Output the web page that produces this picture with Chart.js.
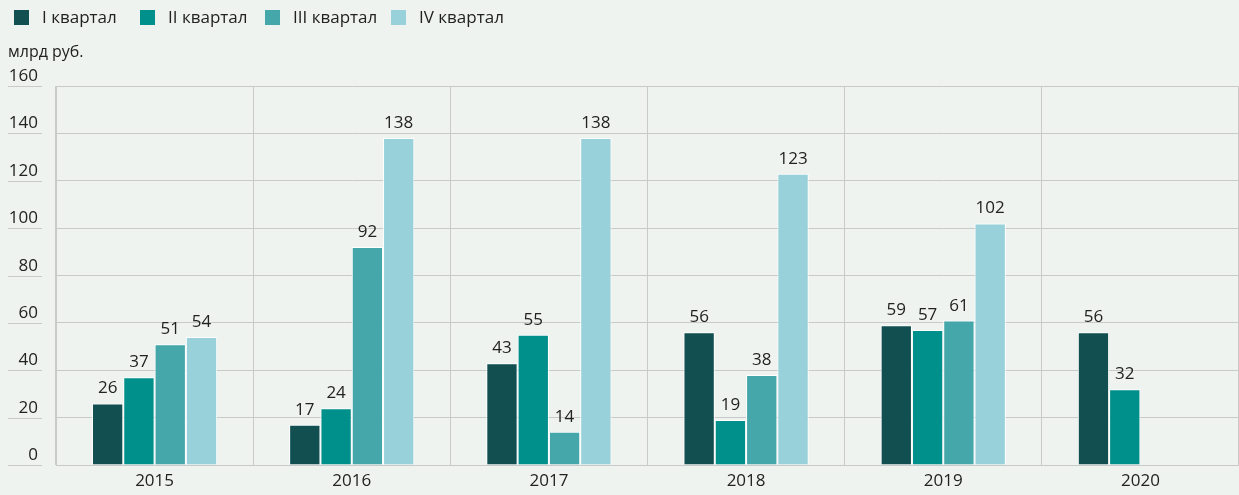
<!DOCTYPE html>
<html><head><meta charset="utf-8">
<script src="https://cdn.jsdelivr.net/npm/chart.js@4/dist/chart.umd.min.js"></script>
<style>html,body{margin:0;padding:0;background:#eff3f0;}#wrap{width:1239px;height:495px;position:relative;}</style>
</head><body><div id="wrap"><canvas id="c" width="1239" height="495"></canvas></div>
<script>
const categories = ['2015','2016','2017','2018','2019','2020'];
const seriesNames = ['I квартал','II квартал','III квартал','IV квартал'];
const q1 = [26, 17, 43, 56, 59, 56];
const q2 = [37, 24, 55, 19, 57, 32];
const q3 = [51, 92, 14, 38, 61, null];
const q4 = [54, 138, 138, 123, 102, null];
const yTicks = [0, 20, 40, 60, 80, 100, 120, 140, 160];
const unitLabel = 'млрд руб.';
const colors = ['#124f50', '#00908b', '#45a7aa', '#99d1da'];

const FONT = '"Open Sans", "Noto Sans", sans-serif';
const TXT = '#222222';
const GRID = '#c9c9c9';

const overlay = {
  id: 'overlay',
  afterDraw(chart) {
    const ctx = chart.ctx;
    const y = chart.scales.y;
    ctx.save();
    ctx.font = '17px ' + FONT;
    ctx.fillStyle = TXT;
    ctx.textAlign = 'right';
    ctx.textBaseline = 'alphabetic';
    yTicks.forEach(v => {
      const py = Math.round(y.getPixelForValue(v)) + 0.5;
      ctx.strokeStyle = GRID; ctx.lineWidth = 1;
      ctx.beginPath(); ctx.moveTo(8, py); ctx.lineTo(42, py); ctx.stroke();
      ctx.fillText(String(v), 38, py - 6);
    });
    ctx.textAlign = 'left';
    ctx.font = '16px ' + FONT;
    ctx.textBaseline = 'middle';
    ctx.fillText(unitLabel, 8, 52);
    ctx.font = '17px ' + FONT;
    chart.data.datasets.forEach((ds, i) => {
      const lx = 14 + i * 125.7;
      ctx.fillStyle = ds.backgroundColor;
      ctx.fillRect(Math.round(lx), 10, 15, 15);
      ctx.fillStyle = TXT;
      ctx.fillText(ds.label, Math.round(lx) + 28, 18);
    });
    ctx.textAlign = 'center';
    ctx.textBaseline = 'alphabetic';
    chart.data.datasets.forEach((ds, i) => {
      const meta = chart.getDatasetMeta(i);
      meta.data.forEach((bar, j) => {
        const v = ds.data[j];
        if (v === null || v === undefined) return;
        ctx.fillText(String(v), bar.x, bar.y - 10);
      });
    });
    ctx.restore();
  }
};

new Chart(document.getElementById('c'), {
  type: 'bar',
  data: {
    labels: categories,
    datasets: [q1, q2, q3, q4].map((d, i) => ({
      label: seriesNames[i],
      data: d,
      backgroundColor: colors[i],
      borderColor: '#ffffff',
      borderWidth: 1,
      categoryPercentage: 0.635,
      barPercentage: 1
    }))
  },
  options: {
    responsive: false,
    animation: false,
    layout: { padding: { top: 86, left: 0, right: 0, bottom: 0 } },
    plugins: { legend: { display: false }, tooltip: { enabled: false } },
    scales: {
      x: {
        grid: { color: GRID, offset: true, drawTicks: false },
        border: { color: GRID },
        ticks: { color: TXT, font: { family: FONT, size: 17 }, padding: 6 },
        afterFit(s) { s.height = 30; }
      },
      y: {
        min: 0, max: 160,
        afterBuildTicks(s) { s.ticks = yTicks.map(v => ({ value: v })); },
        grid: { color: GRID, drawTicks: false },
        border: { color: GRID },
        ticks: { display: false },
        afterFit(s) { s.width = 56; }
      }
    }
  },
  plugins: [overlay]
});
</script></body></html>
